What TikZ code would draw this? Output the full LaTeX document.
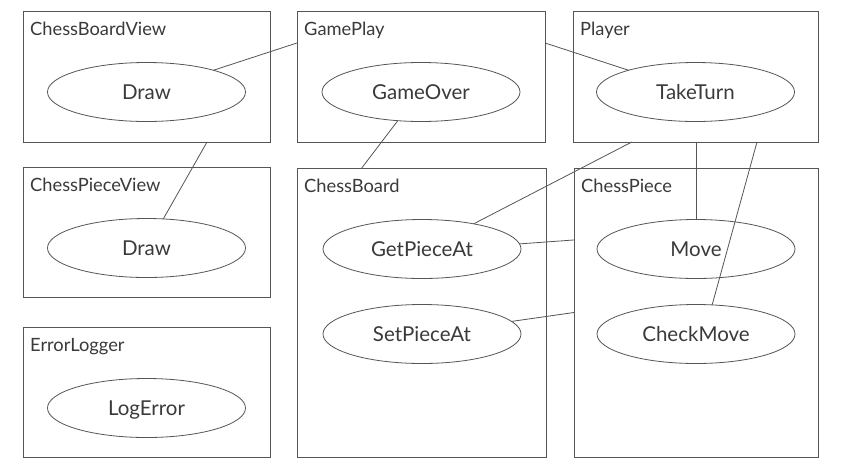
\documentclass[tikz,border=0pt]{standalone}
\usepackage{fontspec}
\setmainfont{Lato}
\usetikzlibrary{calc,shapes.geometric}
\definecolor{linegray}{HTML}{555555}
\definecolor{textgray}{HTML}{3A3A3A}
\begin{document}
\begin{tikzpicture}[x=1pt,y=-1pt,
  box/.style={draw=linegray, line width=0.8pt, rectangle, anchor=north west, inner sep=0pt, outer sep=0pt},
  oval/.style={draw=linegray, line width=0.8pt, ellipse, minimum width=198pt, minimum height=59pt, inner sep=0pt, outer sep=0pt,
    font=\fontsize{20.5}{24}\selectfont, text=textgray, text height=14.6pt, text depth=0pt},
  lbl/.style={anchor=base west, inner sep=0pt, font=\fontsize{18.3}{21}\selectfont, text=textgray},
  conn/.style={draw=linegray, line width=0.8pt}]
\fill[white] (0,0) rectangle (842,472);
\useasboundingbox (0,0) rectangle (842,472);
% boxes
\node[box, minimum width=247pt, minimum height=131pt] (cbv) at (23,11) {};
\node[box, minimum width=248pt, minimum height=131pt] (gp) at (297,11) {};
\node[box, minimum width=245pt, minimum height=131pt] (pl) at (573,11) {};
\node[box, minimum width=247pt, minimum height=130pt] (cpv) at (23,167) {};
\node[box, minimum width=247pt, minimum height=130pt] (el) at (23,327) {};
\node[box, minimum width=249pt, minimum height=289pt] (cb) at (297,168) {};
\node[box, minimum width=244pt, minimum height=289pt] (cp) at (574,168) {};
% labels
\node[lbl] (lcbv) at ($(cbv.north west)+(7,24)$) {ChessBoardView};
\node[lbl] (lgp) at ($(gp.north west)+(7,24)$) {GamePlay};
\node[lbl] (lpl) at ($(pl.north west)+(7,24)$) {Player};
\node[lbl] (lcpv) at ($(cpv.north west)+(7,24)$) {ChessPieceView};
\node[lbl] (lel) at ($(el.north west)+(7,24)$) {ErrorLogger};
\node[lbl] (lcb) at ($(cb.north west)+(7,24)$) {ChessBoard};
\node[lbl] (lcp) at ($(cp.north west)+(7,24)$) {ChessPiece};
% ovals
\node[oval] (draw1) at (146.5,92) {Draw};
\node[oval] (gameover) at (421,92) {GameOver};
\node[oval] (taketurn) at (695.5,92) {TakeTurn};
\node[oval] (draw2) at (146.5,248) {Draw};
\node[oval] (logerror) at (146.5,408) {LogError};
\node[oval] (getpiece) at (422,249) {GetPieceAt};
\node[oval] (setpiece) at (422,334) {SetPieceAt};
\node[oval] (move) at (696,249) {Move};
\node[oval] (checkmove) at (696,334) {CheckMove};
% connectors
\draw[conn] (draw1.18) -- ($(gp.north west)!0.244!(gp.south west)$);
\draw[conn] ($(cbv.south west)!0.745!(cbv.south east)$) -- (draw2.60);
\draw[conn] (gameover.231) -- ($(cb.north west)!0.26!(cb.north east)$);
\draw[conn] ($(gp.north east)!0.244!(gp.south east)$) -- (taketurn.162);
\draw[conn] ($(pl.south west)!0.24!(pl.south east)$) -- (getpiece.26);
\draw[conn] (move.north |- pl.south) -- (move.north);
\draw[conn] ($(pl.south west)!0.751!(pl.south east)$) -- (checkmove.61);
\draw[conn] (getpiece.3.5) -- ($(cp.north west)!0.249!(cp.south west)$);
\draw[conn] (setpiece.8) -- (cp.west);
\end{tikzpicture}
\end{document}
